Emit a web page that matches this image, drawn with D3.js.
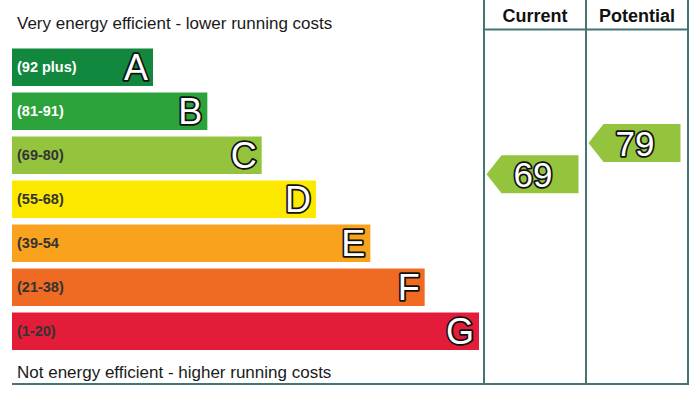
<!DOCTYPE html>
<html>
<head>
<meta charset="utf-8">
<script src="https://cdn.jsdelivr.net/npm/d3@7"></script>
<style>
  html, body { margin: 0; padding: 0; background: #fff; }
  svg { display: block; font-family: "Liberation Sans", Arial, sans-serif; }
</style>
</head>
<body>
<svg id="epc" width="700" height="394"></svg>
<script>
// bands, top (most efficient) to bottom
var bands = ["A", "B", "C", "D", "E", "F", "G"];
var rangeLabels = ["(92 plus)", "(81-91)", "(69-80)", "(55-68)", "(39-54", "(21-38)", "(1-20)"];
var bandMin = [92, 81, 69, 55, 39, 21, 1];
var bandColors = ["#12883f", "#2ca33a", "#94c43e", "#fde800", "#f9a21d", "#ef6a23", "#e21c39"];
var labelColors = ["#ffffff", "#ffffff", "#333333", "#333333", "#333333", "#333333", "#333333"];

// ratings shown in the right-hand columns
var columns = ["Current", "Potential"];
var ratings = [69, 79];

var svg = d3.select("#epc");
var lineColor = "#457474";

// scales
var y = d3.scaleBand()
    .domain(bands)
    .range([48.5, 350])
    .paddingInner(0.148)
    .paddingOuter(0);

var barEnd = d3.scaleLinear()
    .domain([0, bands.length - 1])
    .range([153, 479]);

var col = d3.scaleBand()
    .domain(columns)
    .range([484, 688]);

// score -> vertical position of the rating arrows
var yScore = d3.scaleLinear()
    .domain([100, 1])
    .range([78, 385]);

function bandOf(score) {
    for (var i = 0; i < bandMin.length; i++) {
        if (score >= bandMin[i]) return i;
    }
    return bandMin.length - 1;
}

// captions
svg.append("text")
    .attr("x", 17)
    .attr("y", 29)
    .style("font-size", "17px")
    .style("fill", "#1a1a1a")
    .text("Very energy efficient - lower running costs");

svg.append("text")
    .attr("x", 17)
    .attr("y", 378)
    .style("font-size", "17px")
    .style("fill", "#1a1a1a")
    .text("Not energy efficient - higher running costs");

// bars
var bar = svg.selectAll(".band")
    .data(bands)
    .enter().append("g")
    .attr("class", "band");

bar.append("rect")
    .attr("x", 12)
    .attr("y", function(d) { return y(d); })
    .attr("width", function(d, i) { return barEnd(i) - 12; })
    .attr("height", y.bandwidth())
    .style("fill", function(d, i) { return bandColors[i]; });

bar.append("text")
    .attr("x", 17)
    .attr("y", function(d) { return y(d) + y.bandwidth() / 2 + 5; })
    .style("font-size", "14.5px")
    .style("font-weight", "bold")
    .style("fill", function(d, i) { return labelColors[i]; })
    .text(function(d, i) { return rangeLabels[i]; });

bar.append("text")
    .attr("x", function(d, i) { return barEnd(i) - 5; })
    .attr("y", function(d) { return y(d) + y.bandwidth() / 2 + 13; })
    .style("text-anchor", "end")
    .style("font-size", "36px")
    .style("fill", "#fff")
    .style("stroke", "#111")
    .style("stroke-width", "3.5px")
    .style("paint-order", "stroke")
    .style("stroke-linejoin", "round")
    .text(function(d) { return d; });

// column frame
svg.append("line")
    .attr("x1", col.range()[0]).attr("x2", col.range()[1])
    .attr("y1", 29.5).attr("y2", 29.5)
    .style("stroke", lineColor).style("stroke-width", 2);

svg.append("line")
    .attr("x1", 12).attr("x2", col.range()[1] + 1)
    .attr("y1", 384).attr("y2", 384)
    .style("stroke", lineColor).style("stroke-width", 2);

var edges = columns.map(function(c) { return col(c); }).concat([col.range()[1]]);
svg.selectAll(".vline")
    .data(edges)
    .enter().append("line")
    .attr("class", "vline")
    .attr("x1", function(d) { return d; }).attr("x2", function(d) { return d; })
    .attr("y1", 0).attr("y2", 385)
    .style("stroke", lineColor).style("stroke-width", 2);

svg.selectAll(".colhead")
    .data(columns)
    .enter().append("text")
    .attr("class", "colhead")
    .attr("x", function(d) { return col(d) + col.bandwidth() / 2; })
    .attr("y", 22)
    .style("text-anchor", "middle")
    .style("font-size", "18px")
    .style("font-weight", "bold")
    .style("fill", "#111")
    .text(function(d) { return d; });

// rating arrows
var arrowH = 38, tip = 15, arrowW = 92;
var arrow = svg.selectAll(".rating")
    .data(ratings)
    .enter().append("g")
    .attr("class", "rating")
    .attr("transform", function(d, i) {
        return "translate(" + (col(columns[i]) + 2.5) + "," + yScore(d) + ")";
    });

arrow.append("path")
    .attr("d", "M0,0 L" + tip + "," + (-arrowH / 2) + " L" + arrowW + "," + (-arrowH / 2) +
               " L" + arrowW + "," + (arrowH / 2) + " L" + tip + "," + (arrowH / 2) + " Z")
    .style("fill", function(d) { return bandColors[bandOf(d)]; });

arrow.append("text")
    .attr("x", (arrowW + tip) / 2 - 7)
    .attr("y", 13)
    .style("text-anchor", "middle")
    .style("font-size", "35px")
    .style("fill", "#fff")
    .style("stroke", "#111")
    .style("stroke-width", "3.5px")
    .style("paint-order", "stroke")
    .style("stroke-linejoin", "round")
    .text(function(d) { return d; });
</script>
</body>
</html>
